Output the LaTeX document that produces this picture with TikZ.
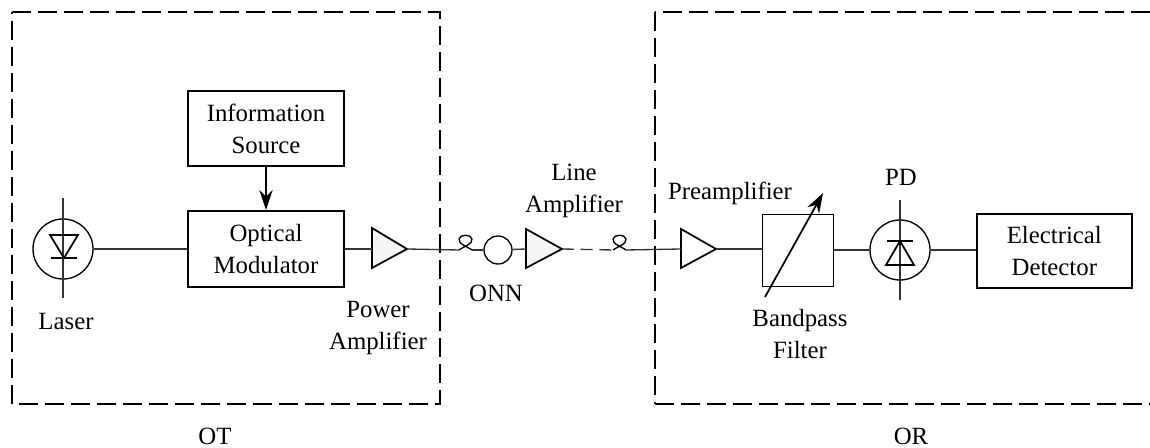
\documentclass[tikz,border=0pt]{standalone}
\usepackage{fontspec}
\setmainfont{Liberation Serif}
\usetikzlibrary{arrows.meta}
\definecolor{amp}{gray}{0.96}
\tikzset{
  x=0.75pt,y=-0.75pt,
  wire/.style={line width=1pt,black!80},
  lab/.style={inner sep=0pt,align=center,font=\fontsize{18.6}{24}\selectfont},
  box/.style={draw,line width=1.5pt,inner sep=0pt,anchor=north west,lab},
  thinbox/.style={draw,line width=1pt,inner sep=0pt,anchor=north west},
  frame/.style={line width=1.3pt,dash pattern=on 14.5pt off 5pt},
  framethin/.style={line width=0.8pt,dash pattern=on 14.5pt off 5pt},
  ampl/.style={draw,line width=1.3pt,fill=amp,line join=miter},
  ring/.style={draw,circle,line width=1pt,inner sep=0pt,fill=white},
  dio/.style={draw,line width=1.3pt},
  arr/.style={line width=1.3pt,-{Stealth[length=15pt,width=10pt]}}
}
\begin{document}
\begin{tikzpicture}
\useasboundingbox (0,0) rectangle (1150,448);
\draw[frame] (12,12) -- (440,12) -- (440,404) -- (12,404);
\draw[framethin] (12,404) -- (12,12);
\draw[frame] (1150,12) -- (655,12);
\draw[framethin] (655,12) -- (655,404);
\draw[frame] (655,404) -- (1150,404);
\node[box,minimum width=117pt,minimum height=56pt,text width=117pt] (info) at (187,90.5) {Information\\Source};
\node[box,minimum width=117pt,minimum height=57pt,text width=117pt] (mod) at (187,210) {Optical\\Modulator};
\node[box,minimum width=116pt,minimum height=55.5pt,text width=116pt] (det) at (976,213) {Electrical\\Detector};
\node[thinbox,minimum width=53pt,minimum height=54pt] (bp) at (762,214) {};
\node[ring,minimum size=45pt] (laser) at (63,249) {};
\node[ring,minimum size=45pt] (pd) at (900,250) {};
\node[ring,minimum size=21pt] (onn) at (498,250) {};
\coordinate (lt) at (63,198); \coordinate (lb) at (63,298);
\coordinate (pt) at (900,200); \coordinate (pb) at (900,300);
\coordinate (a1w) at (372,249); \coordinate (a1e) at (407,249);
\coordinate (a2w) at (526,249); \coordinate (a2e) at (562,249);
\coordinate (a3w) at (681,249); \coordinate (a3e) at (716,249);
\coordinate (l1) at (459,250); \coordinate (l1e) at (472,250);
\coordinate (l2) at (613,250); \coordinate (l2e) at (626,250);
\coordinate (fs) at (765,297); \coordinate (fe) at (823,193);
% amplifiers
\draw[ampl] (372,228) -- (407,249) -- (372,268) -- cycle;
\draw[ampl] (526,229) -- (562,249) -- (526,268) -- cycle;
\draw[ampl,fill=white] (681,229) -- (716,249) -- (681,268) -- cycle;
% wires
\draw[wire] (laser) -- (mod.west|-laser);
\draw[wire,line width=1.3pt] (mod.east|-a1w) -- (a1w);
\draw[wire] (a1e) -- (l1);
\draw[wire] (l1e) -- (onn);
\draw[wire] (onn) -- (a2w);
\draw[wire,dash pattern=on 9pt off 5pt] (a2e) -- (l2);
\draw[wire] (l2e) -- (a3w);
\draw[wire] (a3e) -- (bp.west|-a3e);
\draw[wire,line width=1.3pt] (bp.east|-pd) -- (pd);
\draw[wire,line width=1.3pt] (pd) -- (det.west|-pd);
% fibre loops
\draw[line width=1pt] (l1) .. controls (463,247) and (473,244) .. (472,239) .. controls (471,234) and (460,234) .. (459,239) .. controls (458,244) and (468,247) .. (l1e);
\draw[line width=1pt] (l2) .. controls (617,247) and (627,244) .. (626,239) .. controls (625,234) and (614,234) .. (613,239) .. controls (612,244) and (622,247) .. (l2e);
% diodes
\draw[wire] (lt) -- (lb);
\draw[dio] (50,235) -- (78,235) -- (64,258) -- cycle;
\draw[dio] (51,258) -- (77,258);
\draw[wire] (pt) -- (pb);
\draw[dio] (886,265) -- (914,265) -- (900,241) -- cycle;
\draw[dio] (887,241) -- (913,241);
% arrows
\draw[arr] (info) -- (mod);
\draw[arr] (fs) -- (fe);
% labels
\node[lab] (tlaser) at (66,322) {Laser};
\node[lab] (tpower) at (378,328) {Power\\Amplifier};
\node[lab] (tonn) at (496,293) {ONN};
\node[lab] (tline) at (574,191) {Line\\Amplifier};
\node[lab] (tpre) at (730,193) {Preamplifier};
\node[lab] (tband) at (800,334) {Bandpass\\Filter};
\node[lab] (tpd) at (901,177) {PD};
\node[lab] (tot) at (215,436) {OT};
\node[lab] (tor) at (911,436) {OR};
\end{tikzpicture}
\end{document}
